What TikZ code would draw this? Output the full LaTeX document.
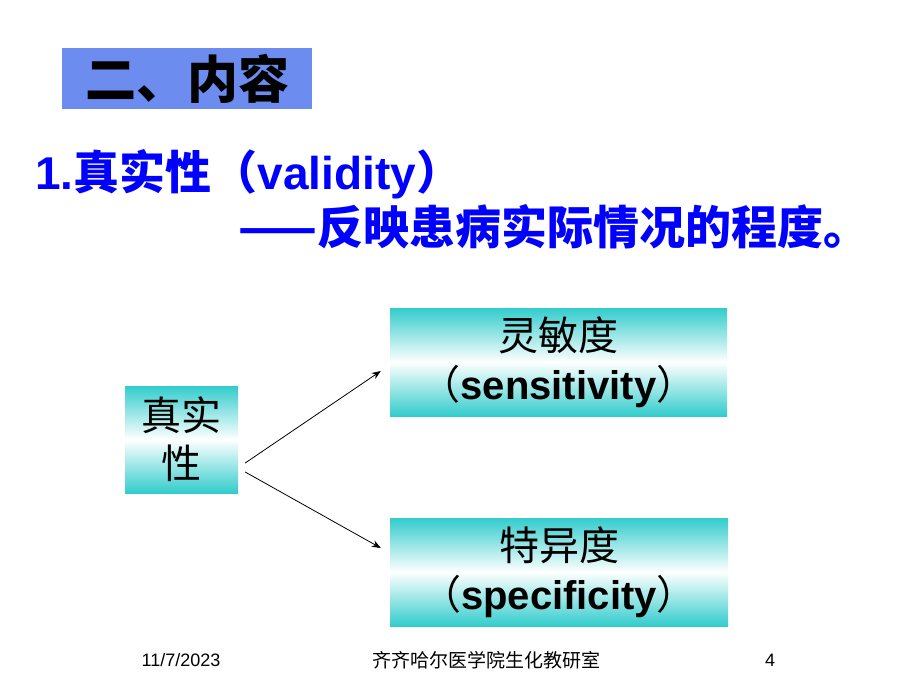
\documentclass[tikz,border=0pt]{standalone}
\usepackage{fontspec}
\usetikzlibrary{arrows.meta}
\setmainfont{Liberation Sans}
\newfontfamily\cjk{Noto Sans CJK SC}
\definecolor{titleblue}{RGB}{108,140,240}
\definecolor{tealc}{RGB}{51,204,204}
\definecolor{textblue}{RGB}{0,0,255}
\tikzset{
  gradbox/.style={rectangle, inner sep=0pt, top color=tealc, bottom color=tealc, middle color=white, draw=none, align=center},
  boxtext/.style={font=\fontsize{40}{49}\selectfont},
  headline/.style={anchor=base west, inner sep=0pt, text=textblue, font=\bfseries\fontsize{46}{50}\selectfont},
  footer/.style={inner sep=0pt, text=black},
  arr/.style={-{Stealth[length=9pt,width=7pt]}, line width=0.8pt, black}
}
\begin{document}
\begin{tikzpicture}[x=1pt,y=-1pt]
\useasboundingbox (0,0) rectangle (920,690);
\fill[white] (0,0) rectangle (920,690);
% title
\node[rectangle, fill=titleblue, minimum width=250pt, minimum height=61pt, inner sep=0pt,
      font=\cjk\bfseries\fontsize{51}{55}\selectfont] (title) at (187,78.5) {二、内容};
% headline lines
\node[headline] (l1) at (35,189) {1.{\cjk 真实性（}validity{\cjk ）}};
\node[headline] (l2) at (238,244) {{\cjk ——反映患病实际情况的程度。}};
% boxes
\node[gradbox, minimum width=113pt, minimum height=107pt, boxtext] (src) at (181.5,439.5) {{\cjk 真实}\\[-1pt]{\cjk 性}};
\node[gradbox, minimum width=337pt, minimum height=108pt, boxtext] (sens) at (558.5,362) {{\cjk 灵敏度}\\{\cjk （}\textbf{sensitivity}{\cjk ）}};
\node[gradbox, minimum width=338pt, minimum height=108pt, boxtext] (spec) at (559,572) {{\cjk 特异度}\\{\cjk （}\textbf{specificity}{\cjk ）}};
% connectors
\coordinate (s1) at ([shift={(7,23.5)}]src.east);
\coordinate (s2) at ([shift={(7,32.5)}]src.east);
\coordinate (e1) at ([shift={(-9,9)}]sens.west);
\coordinate (e2) at ([shift={(-9,-24)}]spec.west);
\draw[arr] (s1) -- (e1);
\draw[arr] (s2) -- (e2);
% footer
\node[footer, font=\fontsize{18}{20}\selectfont] (date) at (181,660) {11/7/2023};
\node[footer, font=\cjk\fontsize{19}{21}\selectfont] (org) at (486,660) {齐齐哈尔医学院生化教研室};
\node[footer, font=\fontsize{18}{20}\selectfont] (page) at (770,660) {4};
\end{tikzpicture}
\end{document}
